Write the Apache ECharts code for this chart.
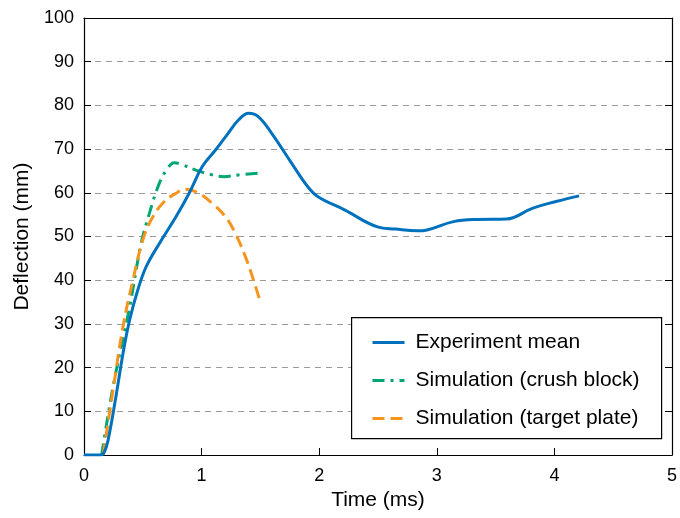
<!DOCTYPE html>
<html><head><meta charset="utf-8">
<script src="https://cdn.jsdelivr.net/npm/echarts@6/dist/echarts.min.js"></script>
<style>html,body{margin:0;padding:0;background:#fff}#c{width:680px;height:518px}</style>
</head><body><div id="c"></div>
<script>
var xTicks = [0, 1, 2, 3, 4, 5];
var yTicks = [0, 10, 20, 30, 40, 50, 60, 70, 80, 90, 100];
var seriesNames = ['Experiment mean', 'Simulation (crush block)', 'Simulation (target plate)'];

var expTime = [0, 0.14, 0.17, 0.205, 0.276, 0.332, 0.388, 0.458, 0.529, 0.641, 0.782, 0.894, 1.006, 1.118, 1.203, 1.315, 1.4, 1.484, 1.596, 1.765, 1.9, 1.99, 2.215, 2.496, 2.65, 2.833, 2.917, 3.142, 3.339, 3.592, 3.817, 4.013, 4.21];
var expDefl = [0, 0, 0.5, 3.4, 14.1, 23.3, 30.9, 37.8, 43.1, 48.4, 54.5, 59.9, 66.0, 69.8, 72.8, 76.7, 78.2, 77.4, 73.6, 66.8, 61.5, 59.1, 56.1, 52.2, 51.7, 51.3, 51.5, 53.4, 53.9, 54.0, 56.5, 58.0, 59.3];

var crushTime = [0.15, 0.247, 0.388, 0.486, 0.556, 0.641, 0.711, 0.767, 0.837, 0.95, 1.09, 1.189, 1.315, 1.498];
var crushDefl = [0, 15.6, 33.9, 48.4, 55.3, 62.2, 65.6, 66.9, 66.4, 65.2, 64.1, 63.7, 64.1, 64.5];

var plateTime = [0.163, 0.247, 0.332, 0.416, 0.5, 0.571, 0.669, 0.782, 0.866, 0.978, 1.09, 1.203, 1.287, 1.372, 1.442, 1.498];
var plateDefl = [0, 14.9, 29.4, 40.0, 49.2, 53.8, 57.6, 59.9, 60.8, 59.9, 57.6, 54.5, 50.7, 45.4, 40.0, 35.1];

function pairs(xs, ys) { return xs.map(function (x, i) { return [x, ys[i]]; }); }

var font = 'Liberation Sans, Arial, sans-serif';
var chart = echarts.init(document.getElementById('c'), null, {renderer: 'canvas'});
var axisLine = {show: true, onZero: false, lineStyle: {color: '#000', width: 1.2}};
chart.setOption({
  animation: false,
  backgroundColor: '#fff',
  grid: {left: 84, top: 18, width: 591, height: 437, containLabel: false},
  xAxis: [{
    type: 'value', min: xTicks[0], max: xTicks[xTicks.length - 1], interval: 1,
    name: 'Time (ms)', nameLocation: 'middle', nameGap: 34,
    nameTextStyle: {fontSize: 21, fontFamily: font, color: '#000'},
    axisLine: axisLine,
    axisTick: {show: true, inside: true, length: 7, lineStyle: {color: '#000'}},
    axisLabel: {fontSize: 18, fontFamily: font, color: '#000', margin: 12},
    splitLine: {show: false}
  }, {
    type: 'value', position: 'top', min: xTicks[0], max: xTicks[xTicks.length - 1], interval: 1,
    axisLine: axisLine, axisTick: {show: false}, axisLabel: {show: false}, splitLine: {show: false}
  }],
  yAxis: [{
    type: 'value', min: yTicks[0], max: yTicks[yTicks.length - 1], interval: 10,
    name: 'Deflection (mm)', nameLocation: 'middle', nameGap: 44, nameRotate: 90,
    nameTextStyle: {fontSize: 21, fontFamily: font, color: '#000'},
    axisLine: axisLine,
    axisTick: {show: true, inside: true, length: 7, lineStyle: {color: '#000'}},
    axisLabel: {fontSize: 18, fontFamily: font, color: '#000', margin: 10},
    splitLine: {show: true, lineStyle: {color: '#9a9a9a', type: [6, 5], width: 1}}
  }, {
    type: 'value', position: 'right', min: yTicks[0], max: yTicks[yTicks.length - 1], interval: 10,
    axisLine: axisLine,
    axisTick: {show: true, inside: true, length: 7, lineStyle: {color: '#000'}},
    axisLabel: {show: false}, splitLine: {show: false}
  }],
  graphic: [{
    type: 'rect', left: 351, top: 317, z: 100,
    shape: {width: 310, height: 121},
    style: {fill: '#fff', stroke: '#000', lineWidth: 1.2}
  }],
  legend: {
    orient: 'vertical', left: 351, top: 317, z: 101,
    padding: [15, 20, 12, 20], itemGap: 17, itemWidth: 32, itemHeight: 10,
    itemStyle: {opacity: 0},
    lineStyle: {width: 3},
    textStyle: {fontSize: 21, fontFamily: font, color: '#000', lineHeight: 20, padding: [0, 0, 0, 6]},
    data: seriesNames
  },
  series: [{
    name: seriesNames[0], type: 'line', smooth: 0.4, symbol: 'none', z: 5,
    lineStyle: {color: '#0072BD', width: 3},
    itemStyle: {color: '#0072BD'},
    data: pairs(expTime, expDefl)
  }, {
    name: seriesNames[1], type: 'line', smooth: 0.4, symbol: 'none', z: 4,
    lineStyle: {color: '#00A676', width: 3, type: [12, 6, 3, 6]},
    itemStyle: {color: '#00A676'},
    data: pairs(crushTime, crushDefl)
  }, {
    name: seriesNames[2], type: 'line', smooth: 0.4, symbol: 'none', z: 4,
    lineStyle: {color: '#F7941D', width: 3, type: [12, 6]},
    itemStyle: {color: '#F7941D'},
    data: pairs(plateTime, plateDefl)
  }]
});
</script></body></html>
